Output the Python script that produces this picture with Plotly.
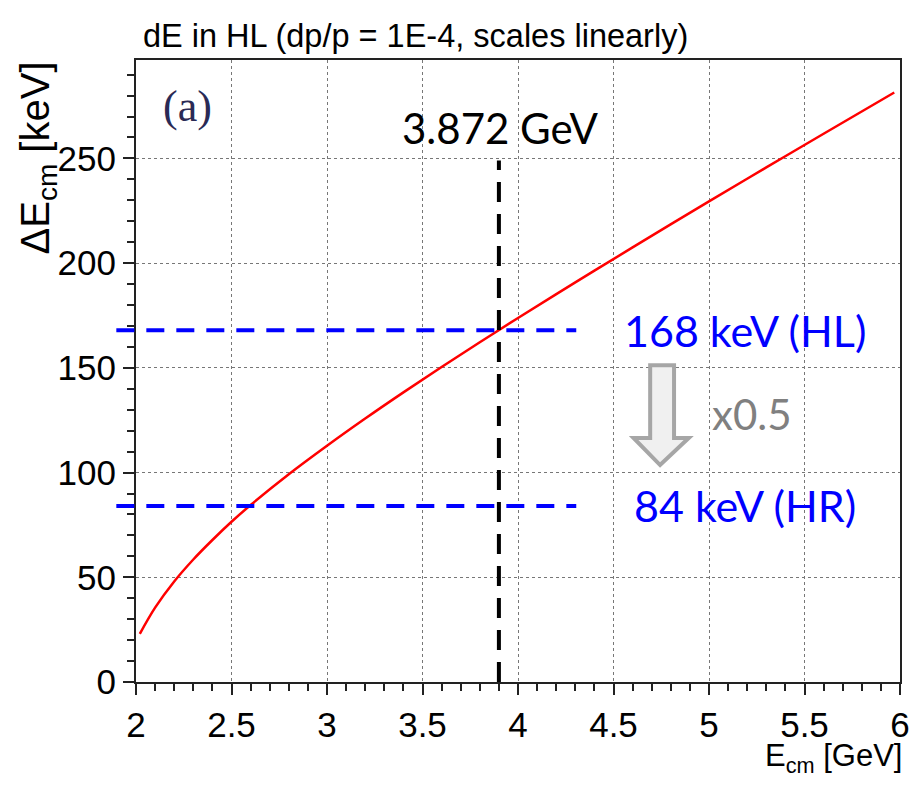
import plotly.graph_objects as go

# ---- data ----
e_cm = [2.02, 2.1, 2.2, 2.3, 2.4, 2.5, 2.6, 2.8, 3.0, 3.2, 3.4, 3.6, 3.8,
        4.0, 4.3, 4.6, 5.0, 5.3, 5.6, 5.97]
de_cm = [23, 35.5, 48, 58.5, 67.8, 76.5, 84.5, 99.2, 112.8, 125.8, 138.3, 150.4, 162.2,
         173.8, 190.8, 207.5, 229.5, 245.7, 261.8, 281.5]

x_range = [2, 6]
y_range = [0, 297]
x_ticks = [2, 2.5, 3, 3.5, 4, 4.5, 5, 5.5, 6]
y_ticks = [0, 50, 100, 150, 200, 250]

marker_energy = 3.9          # drawn position of the 3.872 GeV line
marker_top = 249
hl_value = 168
hr_value = 84
hline_x = [1.897, 4.305]

TXT = "Liberation Sans, Arial, sans-serif"
CAL = "Lato, Open Sans, sans-serif"


def xpaper(x):
    return (x - x_range[0]) / (x_range[1] - x_range[0])


fig = go.Figure()
fig.add_trace(go.Scatter(x=e_cm, y=de_cm, mode="lines",
                         line=dict(color="#ff0000", width=2.5, shape="spline", smoothing=1.0),
                         showlegend=False, hoverinfo="skip"))

# blue dashed lines
for v in (hl_value, hr_value):
    fig.add_shape(type="line", xref="paper", yref="y", x0=xpaper(hline_x[0]), x1=xpaper(hline_x[1]),
                  y0=v, y1=v, line=dict(color="#0000ff", width=4, dash="18px,12px"), layer="above")
# black dashed vertical line
fig.add_shape(type="line", xref="x", yref="y", x0=marker_energy, x1=marker_energy, y0=0, y1=marker_top,
              line=dict(color="#000000", width=4, dash="20px,12px"), layer="above")

# grey arrow
ax = [4.692, 4.817, 4.817, 4.894, 4.744, 4.605, 4.692]
ay = [151.3, 151.3, 116.5, 116.5, 103.6, 116.5, 116.5]
path = "M " + " L ".join(f"{a},{b}" for a, b in zip(ax, ay)) + " Z"
fig.add_shape(type="path", xref="x", yref="y", path=path, fillcolor="#f0f0f0",
              line=dict(color="#a6a6a6", width=4), layer="above")

# annotations
fig.add_annotation(x=2.27, y=275, xref="x", yref="y", text="(a)", showarrow=False,
                   font=dict(family="Liberation Serif, DejaVu Serif, serif", size=44, color="#2a2a55"))
fig.add_annotation(x=3.91, y=264.5, xref="x", yref="y", text="3.872 GeV", showarrow=False,
                   font=dict(family=CAL, size=42, color="#000000"))
fig.add_annotation(x=5.19, y=168, xref="x", yref="y", text="168 keV (HL)", showarrow=False,
                   font=dict(family=CAL, size=43, color="#0000ff"))
fig.add_annotation(x=5.19, y=84.5, xref="x", yref="y", text="84 keV (HR)", showarrow=False,
                   font=dict(family=CAL, size=43, color="#0000ff"))
fig.add_annotation(x=5.225, y=128, xref="x", yref="y", text="x0.5", showarrow=False,
                   font=dict(family=CAL, size=42, color="#808080"))

# title and axis titles
fig.add_annotation(x=0.0, y=1.0, xref="paper", yref="paper", xanchor="left", yanchor="bottom", yshift=4,
                   xshift=5, text="dE in HL (dp/p = 1E-4, scales linearly)", showarrow=False,
                   font=dict(family=TXT, size=32.5, color="#000000"))
fig.add_annotation(x=1.0, y=0.0, xref="paper", yref="paper", xanchor="right", yanchor="top", yshift=-54,
                   xshift=4, text="E<sub>cm</sub> [GeV]", showarrow=False,
                   font=dict(family=TXT, size=31, color="#000000"))
fig.add_annotation(x=0.0, y=1.0, xref="paper", yref="paper", xanchor="right", yanchor="top", xshift=-72,
                   textangle=-90, text="ΔE<sub>cm</sub> [keV]", showarrow=False,
                   font=dict(family=TXT, size=40, color="#000000"))

axis_common = dict(showline=True, linecolor="#222222", linewidth=2, mirror=True, ticks="outside",
                   tickcolor="#222222", tickwidth=2, ticklen=11, showgrid=True, gridcolor="#777777",
                   gridwidth=1, griddash="dot", zeroline=False, tickfont=dict(family=TXT, size=35, color="#000000"))

fig.update_xaxes(range=x_range, tickvals=x_ticks, ticktext=[f"{t:g}" for t in x_ticks],
                 minor=dict(dtick=0.1, ticklen=7, tickwidth=1.5, tickcolor="#222222", ticks="outside", showgrid=False),
                 **axis_common)
fig.update_yaxes(range=y_range, tickvals=y_ticks, ticktext=[str(t) for t in y_ticks],
                 minor=dict(dtick=10, ticklen=7, tickwidth=1.5, tickcolor="#222222", ticks="outside", showgrid=False),
                 **axis_common)

fig.update_layout(width=921, height=798, margin=dict(l=136, r=11, t=60, b=116),
                  paper_bgcolor="white", plot_bgcolor="white", showlegend=False)

fig.write_html("out.html")
